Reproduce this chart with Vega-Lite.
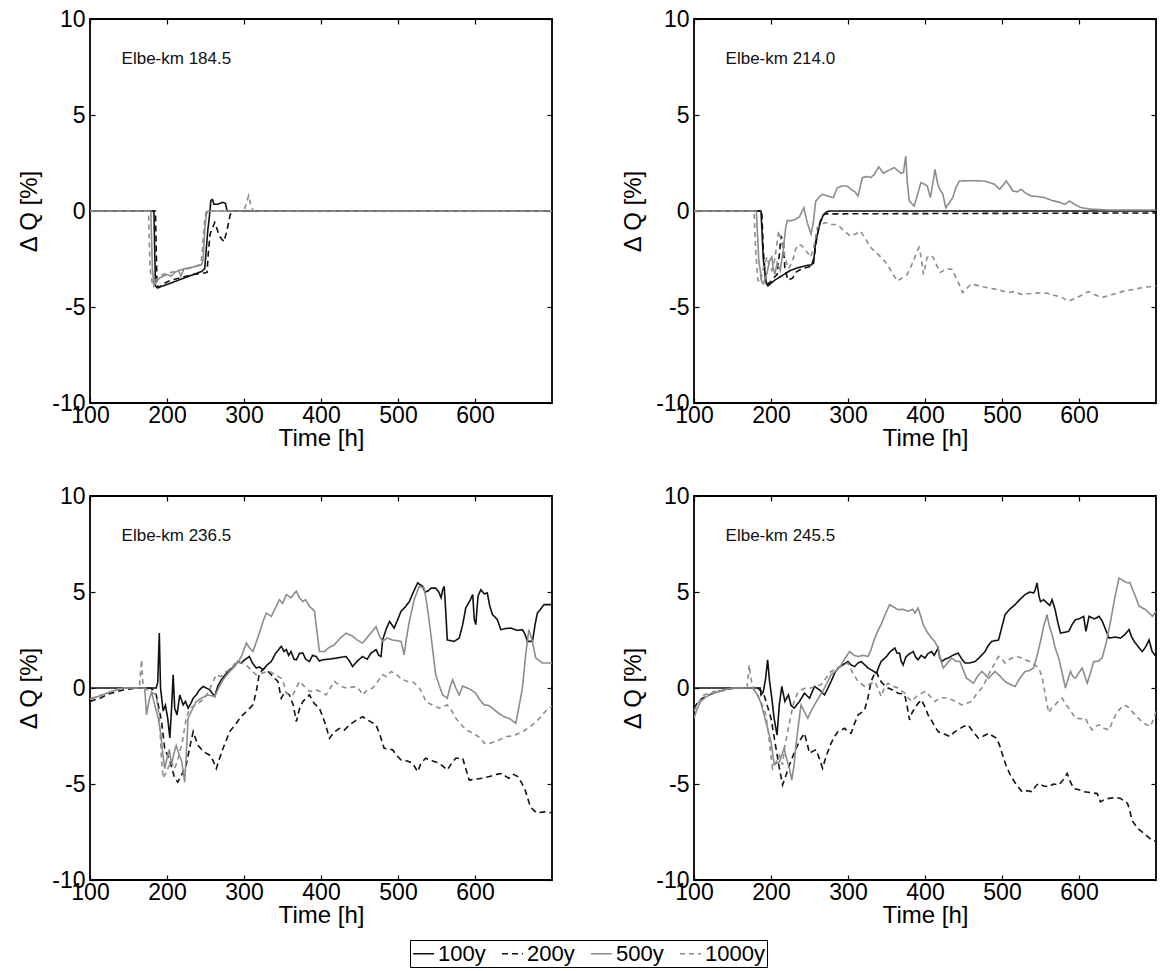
{
"$schema": "https://vega.github.io/schema/vega-lite/v6.json",
"background": "white",
"padding": {"left": 16, "top": 7, "right": 5, "bottom": 5},
"bounds": "flush",
"columns": 2,
"spacing": {"row": 93, "column": 142},
"datasets": {
"a": [
{"s":"100y","t":100,"q":0},{"s":"100y","t":183,"q":0},{"s":"100y","t":185,"q":-3.9},{"s":"100y","t":187,"q":-4.0},{"s":"100y","t":195,"q":-3.9},{"s":"100y","t":205,"q":-3.75},{"s":"100y","t":215,"q":-3.6},{"s":"100y","t":225,"q":-3.45},{"s":"100y","t":235,"q":-3.3},{"s":"100y","t":245,"q":-3.15},{"s":"100y","t":249,"q":-3.0},{"s":"100y","t":251,"q":-2.0},{"s":"100y","t":253,"q":-1.0},{"s":"100y","t":255,"q":-0.3},{"s":"100y","t":257,"q":0.55},{"s":"100y","t":259,"q":0.6},{"s":"100y","t":261,"q":0.35},{"s":"100y","t":266,"q":0.35},{"s":"100y","t":272,"q":0.45},{"s":"100y","t":276,"q":0.4},{"s":"100y","t":278,"q":0},{"s":"100y","t":700,"q":0},
{"s":"200y","t":100,"q":0},{"s":"200y","t":185,"q":0},{"s":"200y","t":187,"q":-3.8},{"s":"200y","t":189,"q":-4.0},{"s":"200y","t":195,"q":-3.8},{"s":"200y","t":205,"q":-3.6},{"s":"200y","t":215,"q":-3.5},{"s":"200y","t":225,"q":-3.4},{"s":"200y","t":235,"q":-3.3},{"s":"200y","t":245,"q":-3.25},{"s":"200y","t":252,"q":-3.2},{"s":"200y","t":254,"q":-2.0},{"s":"200y","t":256,"q":-1.2},{"s":"200y","t":262,"q":-0.6},{"s":"200y","t":268,"q":-1.3},{"s":"200y","t":274,"q":-1.6},{"s":"200y","t":278,"q":-1.0},{"s":"200y","t":282,"q":-0.2},{"s":"200y","t":285,"q":0},{"s":"200y","t":700,"q":0},
{"s":"500y","t":100,"q":0},{"s":"500y","t":179,"q":0},{"s":"500y","t":181,"q":-3.0},{"s":"500y","t":183,"q":-3.9},{"s":"500y","t":186,"q":-3.7},{"s":"500y","t":190,"q":-3.5},{"s":"500y","t":195,"q":-3.4},{"s":"500y","t":200,"q":-3.3},{"s":"500y","t":205,"q":-3.4},{"s":"500y","t":210,"q":-3.2},{"s":"500y","t":215,"q":-3.1},{"s":"500y","t":218,"q":-3.4},{"s":"500y","t":222,"q":-3.0},{"s":"500y","t":228,"q":-3.0},{"s":"500y","t":235,"q":-2.9},{"s":"500y","t":245,"q":-2.8},{"s":"500y","t":247,"q":-2.5},{"s":"500y","t":249,"q":-1.0},{"s":"500y","t":251,"q":-0.2},{"s":"500y","t":253,"q":0},{"s":"500y","t":700,"q":0},
{"s":"1000y","t":100,"q":0},{"s":"1000y","t":176,"q":0},{"s":"1000y","t":178,"q":-3.0},{"s":"1000y","t":181,"q":-3.8},{"s":"1000y","t":185,"q":-3.6},{"s":"1000y","t":195,"q":-3.3},{"s":"1000y","t":205,"q":-3.2},{"s":"1000y","t":215,"q":-3.1},{"s":"1000y","t":225,"q":-3.0},{"s":"1000y","t":235,"q":-2.9},{"s":"1000y","t":244,"q":-2.8},{"s":"1000y","t":246,"q":-2.0},{"s":"1000y","t":249,"q":-0.5},{"s":"1000y","t":251,"q":0},{"s":"1000y","t":300,"q":0},{"s":"1000y","t":303,"q":0.4},{"s":"1000y","t":306,"q":0.8},{"s":"1000y","t":309,"q":0.3},{"s":"1000y","t":312,"q":0},{"s":"1000y","t":700,"q":0}
],
"b": [
{"s":"100y","t":100,"q":0},{"s":"100y","t":187,"q":0},{"s":"100y","t":190,"q":-2.5},{"s":"100y","t":194,"q":-3.8},{"s":"100y","t":196,"q":-3.9},{"s":"100y","t":205,"q":-3.6},{"s":"100y","t":215,"q":-3.35},{"s":"100y","t":225,"q":-3.1},{"s":"100y","t":235,"q":-2.95},{"s":"100y","t":245,"q":-2.85},{"s":"100y","t":253,"q":-2.8},{"s":"100y","t":256,"q":-2.4},{"s":"100y","t":258,"q":-1.6},{"s":"100y","t":261,"q":-1.1},{"s":"100y","t":264,"q":-0.6},{"s":"100y","t":268,"q":-0.2},{"s":"100y","t":272,"q":-0.05},{"s":"100y","t":276,"q":0},{"s":"100y","t":700,"q":0},
{"s":"200y","t":100,"q":0},{"s":"200y","t":188,"q":0},{"s":"200y","t":190,"q":-2.0},{"s":"200y","t":193,"q":-3.6},{"s":"200y","t":197,"q":-3.8},{"s":"200y","t":203,"q":-3.5},{"s":"200y","t":208,"q":-3.3},{"s":"200y","t":211,"q":-2.2},{"s":"200y","t":213,"q":-1.3},{"s":"200y","t":216,"q":-1.6},{"s":"200y","t":218,"q":-3.0},{"s":"200y","t":222,"q":-3.6},{"s":"200y","t":228,"q":-3.5},{"s":"200y","t":232,"q":-3.2},{"s":"200y","t":240,"q":-3.0},{"s":"200y","t":250,"q":-2.9},{"s":"200y","t":255,"q":-2.8},{"s":"200y","t":258,"q":-1.8},{"s":"200y","t":262,"q":-0.8},{"s":"200y","t":266,"q":-0.3},{"s":"200y","t":270,"q":-0.15},{"s":"200y","t":700,"q":-0.1},
{"s":"500y","t":100,"q":0},{"s":"500y","t":181,"q":0},{"s":"500y","t":184,"q":-2.5},{"s":"500y","t":188,"q":-3.7},{"s":"500y","t":190,"q":-3.8},{"s":"500y","t":195,"q":-3.2},{"s":"500y","t":198,"q":-2.6},{"s":"500y","t":201,"q":-2.4},{"s":"500y","t":203,"q":-3.0},{"s":"500y","t":205,"q":-3.3},{"s":"500y","t":208,"q":-2.7},{"s":"500y","t":212,"q":-3.1},{"s":"500y","t":216,"q":-2.0},{"s":"500y","t":219,"q":-0.9},{"s":"500y","t":221,"q":-0.5},{"s":"500y","t":226,"q":-0.5},{"s":"500y","t":232,"q":-0.43},{"s":"500y","t":237,"q":-0.3},{"s":"500y","t":242.6,"q":0.17},{"s":"500y","t":247,"q":-0.6},{"s":"500y","t":252,"q":-1.2},{"s":"500y","t":255,"q":-0.6},{"s":"500y","t":258,"q":0.5},{"s":"500y","t":262,"q":0.7},{"s":"500y","t":266.5,"q":0.87},{"s":"500y","t":272,"q":0.8},{"s":"500y","t":276,"q":0.75},{"s":"500y","t":281,"q":0.7},{"s":"500y","t":286,"q":1.2},{"s":"500y","t":292,"q":1.3},{"s":"500y","t":299,"q":1.3},{"s":"500y","t":305,"q":1.1},{"s":"500y","t":309,"q":1.0},{"s":"500y","t":313,"q":0.78},{"s":"500y","t":318.6,"q":1.74},{"s":"500y","t":325,"q":1.8},{"s":"500y","t":330,"q":1.75},{"s":"500y","t":334,"q":1.9},{"s":"500y","t":340,"q":2.3},{"s":"500y","t":346,"q":1.97},{"s":"500y","t":352,"q":2.1},{"s":"500y","t":360,"q":2.26},{"s":"500y","t":365,"q":2.1},{"s":"500y","t":368.5,"q":1.97},{"s":"500y","t":372,"q":2.0},{"s":"500y","t":375,"q":2.86},{"s":"500y","t":377,"q":1.5},{"s":"500y","t":379.6,"q":0.52},{"s":"500y","t":386,"q":0.26},{"s":"500y","t":390,"q":0.8},{"s":"500y","t":394.6,"q":1.48},{"s":"500y","t":399,"q":1.4},{"s":"500y","t":403,"q":1.3},{"s":"500y","t":407,"q":0.7},{"s":"500y","t":410,"q":1.4},{"s":"500y","t":413,"q":2.17},{"s":"500y","t":416,"q":1.5},{"s":"500y","t":419,"q":1.13},{"s":"500y","t":423,"q":0.9},{"s":"500y","t":427,"q":0.17},{"s":"500y","t":431,"q":0.4},{"s":"500y","t":436,"q":0.7},{"s":"500y","t":440,"q":1.2},{"s":"500y","t":444.6,"q":1.56},{"s":"500y","t":460,"q":1.58},{"s":"500y","t":477,"q":1.56},{"s":"500y","t":490,"q":1.4},{"s":"500y","t":497,"q":1.13},{"s":"500y","t":505.5,"q":1.56},{"s":"500y","t":510,"q":1.3},{"s":"500y","t":514,"q":1.04},{"s":"500y","t":520,"q":1.0},{"s":"500y","t":525,"q":1.13},{"s":"500y","t":530,"q":0.95},{"s":"500y","t":538,"q":0.78},{"s":"500y","t":547,"q":0.75},{"s":"500y","t":555,"q":0.7},{"s":"500y","t":565,"q":0.55},{"s":"500y","t":575,"q":0.45},{"s":"500y","t":581.5,"q":0.35},{"s":"500y","t":588,"q":0.52},{"s":"500y","t":594,"q":0.35},{"s":"500y","t":603,"q":0.17},{"s":"500y","t":615,"q":0.1},{"s":"500y","t":638,"q":0.05},{"s":"500y","t":700,"q":0.05},
{"s":"1000y","t":100,"q":0},{"s":"1000y","t":178,"q":0},{"s":"1000y","t":180,"q":-2.0},{"s":"1000y","t":183,"q":-3.6},{"s":"1000y","t":186,"q":-3.7},{"s":"1000y","t":190,"q":-3.0},{"s":"1000y","t":194.8,"q":-2.4},{"s":"1000y","t":198,"q":-2.9},{"s":"1000y","t":201,"q":-3.1},{"s":"1000y","t":205,"q":-2.5},{"s":"1000y","t":210,"q":-1.04},{"s":"1000y","t":213,"q":-1.5},{"s":"1000y","t":216.5,"q":-2.1},{"s":"1000y","t":220,"q":-2.7},{"s":"1000y","t":223,"q":-3.0},{"s":"1000y","t":228,"q":-2.6},{"s":"1000y","t":232,"q":-2.0},{"s":"1000y","t":236,"q":-1.74},{"s":"1000y","t":240,"q":-1.8},{"s":"1000y","t":244,"q":-2.0},{"s":"1000y","t":248,"q":-2.2},{"s":"1000y","t":251.7,"q":-2.4},{"s":"1000y","t":256,"q":-1.8},{"s":"1000y","t":260,"q":-0.87},{"s":"1000y","t":265,"q":-0.7},{"s":"1000y","t":270.8,"q":-0.6},{"s":"1000y","t":278,"q":-0.7},{"s":"1000y","t":286,"q":-0.7},{"s":"1000y","t":294,"q":-1.0},{"s":"1000y","t":303,"q":-1.3},{"s":"1000y","t":310,"q":-1.2},{"s":"1000y","t":316,"q":-1.04},{"s":"1000y","t":322,"q":-1.4},{"s":"1000y","t":329.5,"q":-1.9},{"s":"1000y","t":340,"q":-2.3},{"s":"1000y","t":345,"q":-2.5},{"s":"1000y","t":351,"q":-2.78},{"s":"1000y","t":357,"q":-3.2},{"s":"1000y","t":364,"q":-3.65},{"s":"1000y","t":370,"q":-3.5},{"s":"1000y","t":377,"q":-3.3},{"s":"1000y","t":385,"q":-2.6},{"s":"1000y","t":392,"q":-1.9},{"s":"1000y","t":395,"q":-2.4},{"s":"1000y","t":398,"q":-3.3},{"s":"1000y","t":402.6,"q":-2.43},{"s":"1000y","t":407,"q":-2.3},{"s":"1000y","t":411,"q":-2.43},{"s":"1000y","t":416,"q":-2.9},{"s":"1000y","t":420,"q":-3.2},{"s":"1000y","t":428,"q":-3.0},{"s":"1000y","t":435,"q":-3.04},{"s":"1000y","t":442,"q":-3.6},{"s":"1000y","t":449,"q":-4.25},{"s":"1000y","t":455,"q":-4.0},{"s":"1000y","t":460,"q":-3.8},{"s":"1000y","t":470,"q":-3.9},{"s":"1000y","t":481.6,"q":-4.0},{"s":"1000y","t":495,"q":-4.1},{"s":"1000y","t":507.7,"q":-4.25},{"s":"1000y","t":515,"q":-4.2},{"s":"1000y","t":525,"q":-4.34},{"s":"1000y","t":538,"q":-4.3},{"s":"1000y","t":551,"q":-4.25},{"s":"1000y","t":560,"q":-4.3},{"s":"1000y","t":568.6,"q":-4.4},{"s":"1000y","t":578,"q":-4.5},{"s":"1000y","t":586,"q":-4.7},{"s":"1000y","t":598,"q":-4.5},{"s":"1000y","t":612,"q":-4.2},{"s":"1000y","t":620,"q":-4.35},{"s":"1000y","t":629.6,"q":-4.5},{"s":"1000y","t":640,"q":-4.4},{"s":"1000y","t":655.7,"q":-4.2},{"s":"1000y","t":668,"q":-4.1},{"s":"1000y","t":681.7,"q":-4.0},{"s":"1000y","t":700,"q":-3.9}
],
"c": [
{"s":"100y","t":100,"q":0},{"s":"100y","t":186,"q":0},{"s":"100y","t":188,"q":0.3},{"s":"100y","t":190,"q":2.86},{"s":"100y","t":191.6,"q":0},{"s":"100y","t":195,"q":-1.2},{"s":"100y","t":198,"q":-0.9},{"s":"100y","t":201,"q":-1.6},{"s":"100y","t":203.7,"q":-2.6},{"s":"100y","t":206,"q":-1.0},{"s":"100y","t":208,"q":0.69},{"s":"100y","t":210,"q":-1.05},{"s":"100y","t":213,"q":-1.4},{"s":"100y","t":216.6,"q":-0.36},{"s":"100y","t":221,"q":-0.88},{"s":"100y","t":224,"q":-0.7},{"s":"100y","t":227.4,"q":-1.05},{"s":"100y","t":231,"q":-0.8},{"s":"100y","t":234,"q":-0.53},{"s":"100y","t":238,"q":-0.36},{"s":"100y","t":242,"q":-0.1},{"s":"100y","t":247,"q":0.08},{"s":"100y","t":251,"q":0.0},{"s":"100y","t":255.5,"q":-0.1},{"s":"100y","t":262,"q":-0.44},{"s":"100y","t":266,"q":0.1},{"s":"100y","t":270.6,"q":0.43},{"s":"100y","t":276,"q":0.7},{"s":"100y","t":281.4,"q":0.95},{"s":"100y","t":287,"q":1.1},{"s":"100y","t":292,"q":1.38},{"s":"100y","t":296,"q":1.3},{"s":"100y","t":301,"q":1.47},{"s":"100y","t":307,"q":1.64},{"s":"100y","t":311,"q":1.3},{"s":"100y","t":316,"q":1.04},{"s":"100y","t":320,"q":1.1},{"s":"100y","t":324.6,"q":0.95},{"s":"100y","t":330,"q":1.2},{"s":"100y","t":335.4,"q":1.38},{"s":"100y","t":341,"q":1.8},{"s":"100y","t":348.4,"q":2.17},{"s":"100y","t":352,"q":1.9},{"s":"100y","t":355,"q":2.0},{"s":"100y","t":358,"q":1.7},{"s":"100y","t":361,"q":1.9},{"s":"100y","t":365,"q":1.5},{"s":"100y","t":368,"q":1.47},{"s":"100y","t":372,"q":1.8},{"s":"100y","t":376.5,"q":1.82},{"s":"100y","t":380,"q":1.5},{"s":"100y","t":385,"q":1.38},{"s":"100y","t":389,"q":1.7},{"s":"100y","t":393.8,"q":1.64},{"s":"100y","t":398,"q":1.4},{"s":"100y","t":402,"q":1.47},{"s":"100y","t":410,"q":1.5},{"s":"100y","t":420,"q":1.56},{"s":"100y","t":426,"q":1.6},{"s":"100y","t":432.6,"q":1.64},{"s":"100y","t":437,"q":1.4},{"s":"100y","t":441,"q":1.12},{"s":"100y","t":447,"q":1.4},{"s":"100y","t":454,"q":1.64},{"s":"100y","t":460,"q":1.5},{"s":"100y","t":465,"q":1.82},{"s":"100y","t":471.5,"q":2.0},{"s":"100y","t":475,"q":1.7},{"s":"100y","t":478,"q":1.64},{"s":"100y","t":480,"q":2.5},{"s":"100y","t":485,"q":3.1},{"s":"100y","t":489,"q":3.47},{"s":"100y","t":495,"q":3.12},{"s":"100y","t":500,"q":3.6},{"s":"100y","t":504,"q":4.0},{"s":"100y","t":509,"q":4.2},{"s":"100y","t":514.7,"q":4.5},{"s":"100y","t":520,"q":5.0},{"s":"100y","t":525.5,"q":5.47},{"s":"100y","t":532,"q":5.3},{"s":"100y","t":535,"q":5.0},{"s":"100y","t":538.5,"q":5.04},{"s":"100y","t":543,"q":5.2},{"s":"100y","t":549,"q":5.2},{"s":"100y","t":553,"q":5.0},{"s":"100y","t":556,"q":4.7},{"s":"100y","t":558,"q":5.1},{"s":"100y","t":560,"q":5.3},{"s":"100y","t":562,"q":4.0},{"s":"100y","t":564,"q":2.5},{"s":"100y","t":573,"q":2.43},{"s":"100y","t":579.5,"q":2.6},{"s":"100y","t":584,"q":3.3},{"s":"100y","t":588,"q":4.17},{"s":"100y","t":594,"q":4.6},{"s":"100y","t":597,"q":4.87},{"s":"100y","t":599,"q":3.6},{"s":"100y","t":601,"q":3.3},{"s":"100y","t":604,"q":4.8},{"s":"100y","t":607.6,"q":5.12},{"s":"100y","t":612,"q":4.9},{"s":"100y","t":616,"q":4.95},{"s":"100y","t":619,"q":4.3},{"s":"100y","t":622.7,"q":3.82},{"s":"100y","t":626,"q":3.7},{"s":"100y","t":629,"q":3.56},{"s":"100y","t":633.5,"q":3.04},{"s":"100y","t":640,"q":3.1},{"s":"100y","t":646.5,"q":3.12},{"s":"100y","t":655,"q":3.0},{"s":"100y","t":661.6,"q":3.04},{"s":"100y","t":665,"q":2.8},{"s":"100y","t":668,"q":2.43},{"s":"100y","t":674.6,"q":2.43},{"s":"100y","t":678,"q":3.3},{"s":"100y","t":681,"q":3.9},{"s":"100y","t":685,"q":4.1},{"s":"100y","t":689.7,"q":4.34},{"s":"100y","t":700,"q":4.34},
{"s":"200y","t":100,"q":-0.7},{"s":"200y","t":113,"q":-0.53},{"s":"200y","t":125,"q":-0.3},{"s":"200y","t":143,"q":-0.1},{"s":"200y","t":160,"q":0},{"s":"200y","t":178,"q":0},{"s":"200y","t":182,"q":-0.1},{"s":"200y","t":186,"q":-0.36},{"s":"200y","t":193,"q":-1.75},{"s":"200y","t":197,"q":-3.14},{"s":"200y","t":203.7,"q":-3.8},{"s":"200y","t":210,"q":-4.7},{"s":"200y","t":214,"q":-4.9},{"s":"200y","t":219,"q":-4.53},{"s":"200y","t":225,"q":-4.0},{"s":"200y","t":230,"q":-3.0},{"s":"200y","t":234,"q":-2.27},{"s":"200y","t":240,"q":-2.97},{"s":"200y","t":247,"q":-3.3},{"s":"200y","t":255.5,"q":-3.5},{"s":"200y","t":260,"q":-3.8},{"s":"200y","t":264,"q":-4.2},{"s":"200y","t":268,"q":-3.7},{"s":"200y","t":272.8,"q":-3.14},{"s":"200y","t":281.4,"q":-2.27},{"s":"200y","t":290,"q":-1.84},{"s":"200y","t":296,"q":-1.5},{"s":"200y","t":303,"q":-1.23},{"s":"200y","t":311.7,"q":-0.88},{"s":"200y","t":316,"q":-0.18},{"s":"200y","t":320,"q":0.77},{"s":"200y","t":326.8,"q":1.04},{"s":"200y","t":335.4,"q":0.69},{"s":"200y","t":344,"q":0.34},{"s":"200y","t":348.4,"q":-0.53},{"s":"200y","t":353,"q":-0.2},{"s":"200y","t":359,"q":-0.36},{"s":"200y","t":364,"q":-0.9},{"s":"200y","t":368,"q":-1.75},{"s":"200y","t":372,"q":-1.1},{"s":"200y","t":376.5,"q":-0.7},{"s":"200y","t":385,"q":-0.36},{"s":"200y","t":391,"q":-0.8},{"s":"200y","t":398,"q":-1.05},{"s":"200y","t":405,"q":-1.8},{"s":"200y","t":411,"q":-2.62},{"s":"200y","t":417,"q":-2.3},{"s":"200y","t":424,"q":-2.1},{"s":"200y","t":430,"q":-2.2},{"s":"200y","t":437,"q":-1.92},{"s":"200y","t":445,"q":-1.7},{"s":"200y","t":454,"q":-1.5},{"s":"200y","t":462,"q":-1.7},{"s":"200y","t":471.5,"q":-1.92},{"s":"200y","t":477,"q":-2.5},{"s":"200y","t":482,"q":-3.14},{"s":"200y","t":493,"q":-3.22},{"s":"200y","t":498,"q":-3.5},{"s":"200y","t":504,"q":-3.75},{"s":"200y","t":512,"q":-3.8},{"s":"200y","t":519,"q":-3.92},{"s":"200y","t":525.5,"q":-4.36},{"s":"200y","t":530,"q":-3.9},{"s":"200y","t":536,"q":-3.66},{"s":"200y","t":545,"q":-3.8},{"s":"200y","t":553.6,"q":-3.92},{"s":"200y","t":559,"q":-4.1},{"s":"200y","t":564,"q":-4.27},{"s":"200y","t":570,"q":-3.9},{"s":"200y","t":575,"q":-3.66},{"s":"200y","t":584,"q":-3.66},{"s":"200y","t":588,"q":-4.2},{"s":"200y","t":592.5,"q":-4.8},{"s":"200y","t":600,"q":-4.75},{"s":"200y","t":610,"q":-4.7},{"s":"200y","t":620,"q":-4.6},{"s":"200y","t":628,"q":-4.5},{"s":"200y","t":635.7,"q":-4.45},{"s":"200y","t":640,"q":-4.6},{"s":"200y","t":644,"q":-4.7},{"s":"200y","t":650,"q":-4.5},{"s":"200y","t":655,"q":-4.6},{"s":"200y","t":660,"q":-4.9},{"s":"200y","t":665,"q":-5.3},{"s":"200y","t":672,"q":-6.2},{"s":"200y","t":680,"q":-6.5},{"s":"200y","t":690,"q":-6.45},{"s":"200y","t":700,"q":-6.5},
{"s":"500y","t":100,"q":-0.55},{"s":"500y","t":110,"q":-0.45},{"s":"500y","t":120,"q":-0.3},{"s":"500y","t":130,"q":-0.15},{"s":"500y","t":143,"q":0},{"s":"500y","t":171,"q":0},{"s":"500y","t":173.4,"q":-1.4},{"s":"500y","t":177,"q":-0.6},{"s":"500y","t":180,"q":-0.2},{"s":"500y","t":184,"q":-0.88},{"s":"500y","t":188.6,"q":-1.57},{"s":"500y","t":192,"q":-2.4},{"s":"500y","t":194,"q":-3.2},{"s":"500y","t":197,"q":-4.2},{"s":"500y","t":201,"q":-3.5},{"s":"500y","t":203,"q":-3.2},{"s":"500y","t":206,"q":-4.0},{"s":"500y","t":209,"q":-3.4},{"s":"500y","t":212,"q":-3.0},{"s":"500y","t":216,"q":-3.5},{"s":"500y","t":219,"q":-3.8},{"s":"500y","t":223,"q":-4.9},{"s":"500y","t":225,"q":-3.5},{"s":"500y","t":227.4,"q":-1.57},{"s":"500y","t":231.8,"q":-1.2},{"s":"500y","t":238,"q":-0.7},{"s":"500y","t":244.7,"q":-0.53},{"s":"500y","t":253,"q":-0.36},{"s":"500y","t":262,"q":-0.44},{"s":"500y","t":267,"q":0.0},{"s":"500y","t":272.8,"q":0.43},{"s":"500y","t":280,"q":0.8},{"s":"500y","t":285.8,"q":1.04},{"s":"500y","t":291,"q":1.3},{"s":"500y","t":296.6,"q":1.64},{"s":"500y","t":303,"q":2.34},{"s":"500y","t":307,"q":2.1},{"s":"500y","t":311.7,"q":1.9},{"s":"500y","t":320,"q":2.86},{"s":"500y","t":325,"q":3.5},{"s":"500y","t":329,"q":3.9},{"s":"500y","t":335.4,"q":3.73},{"s":"500y","t":340,"q":4.1},{"s":"500y","t":346,"q":4.6},{"s":"500y","t":350,"q":4.4},{"s":"500y","t":355,"q":4.86},{"s":"500y","t":361,"q":4.7},{"s":"500y","t":365,"q":4.9},{"s":"500y","t":368,"q":5.04},{"s":"500y","t":372,"q":4.7},{"s":"500y","t":376.5,"q":4.5},{"s":"500y","t":380,"q":4.6},{"s":"500y","t":385,"q":4.26},{"s":"500y","t":391.6,"q":4.0},{"s":"500y","t":394,"q":3.2},{"s":"500y","t":398,"q":1.9},{"s":"500y","t":404.6,"q":1.9},{"s":"500y","t":410,"q":2.1},{"s":"500y","t":417.5,"q":2.25},{"s":"500y","t":425,"q":2.6},{"s":"500y","t":432.6,"q":2.86},{"s":"500y","t":441,"q":2.7},{"s":"500y","t":447,"q":2.5},{"s":"500y","t":454,"q":2.34},{"s":"500y","t":463,"q":2.78},{"s":"500y","t":471.5,"q":3.2},{"s":"500y","t":476,"q":2.7},{"s":"500y","t":480,"q":2.43},{"s":"500y","t":486,"q":2.6},{"s":"500y","t":493,"q":2.5},{"s":"500y","t":504,"q":2.43},{"s":"500y","t":508,"q":1.73},{"s":"500y","t":511,"q":2.6},{"s":"500y","t":514.7,"q":3.47},{"s":"500y","t":521,"q":4.6},{"s":"500y","t":527.7,"q":5.3},{"s":"500y","t":534,"q":5.2},{"s":"500y","t":537,"q":4.5},{"s":"500y","t":540.6,"q":3.47},{"s":"500y","t":545,"q":2.0},{"s":"500y","t":549,"q":0.69},{"s":"500y","t":553,"q":0.2},{"s":"500y","t":558,"q":-0.36},{"s":"500y","t":564,"q":-0.53},{"s":"500y","t":568,"q":0.1},{"s":"500y","t":571,"q":0.43},{"s":"500y","t":575,"q":0.0},{"s":"500y","t":579.5,"q":-0.36},{"s":"500y","t":584,"q":0.1},{"s":"500y","t":590,"q":0.0},{"s":"500y","t":595,"q":-0.1},{"s":"500y","t":601,"q":-0.27},{"s":"500y","t":606,"q":-0.6},{"s":"500y","t":612,"q":-0.88},{"s":"500y","t":617,"q":-0.9},{"s":"500y","t":622.7,"q":-1.05},{"s":"500y","t":630,"q":-1.3},{"s":"500y","t":638,"q":-1.5},{"s":"500y","t":645,"q":-1.6},{"s":"500y","t":653,"q":-1.84},{"s":"500y","t":657,"q":-1.0},{"s":"500y","t":661.6,"q":0.0},{"s":"500y","t":666,"q":1.8},{"s":"500y","t":670,"q":3.04},{"s":"500y","t":674,"q":2.5},{"s":"500y","t":679,"q":1.56},{"s":"500y","t":687.5,"q":1.3},{"s":"500y","t":700,"q":1.3},
{"s":"1000y","t":100,"q":-0.6},{"s":"1000y","t":110,"q":-0.45},{"s":"1000y","t":120,"q":-0.3},{"s":"1000y","t":130,"q":-0.15},{"s":"1000y","t":140,"q":0},{"s":"1000y","t":164,"q":0},{"s":"1000y","t":166,"q":1.0},{"s":"1000y","t":167,"q":1.47},{"s":"1000y","t":168.5,"q":0.3},{"s":"1000y","t":170,"q":0},{"s":"1000y","t":186,"q":-0.36},{"s":"1000y","t":190,"q":-1.5},{"s":"1000y","t":193,"q":-3.8},{"s":"1000y","t":195,"q":-4.7},{"s":"1000y","t":200,"q":-4.3},{"s":"1000y","t":205,"q":-3.8},{"s":"1000y","t":210,"q":-4.2},{"s":"1000y","t":215,"q":-3.6},{"s":"1000y","t":220,"q":-2.8},{"s":"1000y","t":225,"q":-1.57},{"s":"1000y","t":229.6,"q":-1.05},{"s":"1000y","t":238,"q":-0.88},{"s":"1000y","t":249,"q":-0.53},{"s":"1000y","t":256,"q":0.0},{"s":"1000y","t":264,"q":0.69},{"s":"1000y","t":270,"q":0.6},{"s":"1000y","t":277,"q":0.86},{"s":"1000y","t":283,"q":1.0},{"s":"1000y","t":290,"q":1.38},{"s":"1000y","t":296,"q":1.3},{"s":"1000y","t":303,"q":1.2},{"s":"1000y","t":310,"q":0.9},{"s":"1000y","t":316,"q":0.69},{"s":"1000y","t":325,"q":0.8},{"s":"1000y","t":333,"q":0.86},{"s":"1000y","t":340,"q":0.7},{"s":"1000y","t":348.4,"q":0.51},{"s":"1000y","t":352,"q":0.2},{"s":"1000y","t":355,"q":-0.27},{"s":"1000y","t":363.5,"q":-0.36},{"s":"1000y","t":372,"q":0.34},{"s":"1000y","t":378,"q":0.1},{"s":"1000y","t":385,"q":-0.18},{"s":"1000y","t":394,"q":-0.1},{"s":"1000y","t":400,"q":-0.2},{"s":"1000y","t":406.7,"q":-0.36},{"s":"1000y","t":412,"q":0.0},{"s":"1000y","t":417.5,"q":0.34},{"s":"1000y","t":425,"q":0.1},{"s":"1000y","t":432.6,"q":0.0},{"s":"1000y","t":445.6,"q":0.08},{"s":"1000y","t":450,"q":-0.1},{"s":"1000y","t":454,"q":-0.36},{"s":"1000y","t":460,"q":-0.1},{"s":"1000y","t":467,"q":0.0},{"s":"1000y","t":473,"q":0.3},{"s":"1000y","t":480,"q":0.69},{"s":"1000y","t":485,"q":0.6},{"s":"1000y","t":491,"q":0.86},{"s":"1000y","t":498,"q":0.7},{"s":"1000y","t":506,"q":0.43},{"s":"1000y","t":515,"q":0.3},{"s":"1000y","t":520,"q":0.3},{"s":"1000y","t":527.7,"q":0.0},{"s":"1000y","t":532,"q":-0.3},{"s":"1000y","t":536,"q":-0.7},{"s":"1000y","t":545,"q":-0.9},{"s":"1000y","t":553.6,"q":-1.05},{"s":"1000y","t":564,"q":-0.88},{"s":"1000y","t":570,"q":-1.2},{"s":"1000y","t":575,"q":-1.57},{"s":"1000y","t":582,"q":-1.9},{"s":"1000y","t":588,"q":-2.18},{"s":"1000y","t":595,"q":-2.3},{"s":"1000y","t":601,"q":-2.45},{"s":"1000y","t":607,"q":-2.6},{"s":"1000y","t":612,"q":-2.88},{"s":"1000y","t":618,"q":-2.9},{"s":"1000y","t":625,"q":-2.8},{"s":"1000y","t":632,"q":-2.7},{"s":"1000y","t":640,"q":-2.53},{"s":"1000y","t":648,"q":-2.5},{"s":"1000y","t":657,"q":-2.36},{"s":"1000y","t":665,"q":-2.2},{"s":"1000y","t":674.6,"q":-1.92},{"s":"1000y","t":681,"q":-1.7},{"s":"1000y","t":687.5,"q":-1.4},{"s":"1000y","t":694,"q":-1.1},{"s":"1000y","t":700,"q":-0.96}
],
"d": [
{"s":"100y","t":100,"q":0},{"s":"100y","t":186,"q":0},{"s":"100y","t":187,"q":-0.36},{"s":"100y","t":190,"q":-0.2},{"s":"100y","t":193,"q":0.5},{"s":"100y","t":195.6,"q":1.47},{"s":"100y","t":198,"q":0.4},{"s":"100y","t":201,"q":-0.5},{"s":"100y","t":204,"q":-1.57},{"s":"100y","t":207.8,"q":-2.45},{"s":"100y","t":210.8,"q":-0.88},{"s":"100y","t":214,"q":0.08},{"s":"100y","t":218,"q":-0.7},{"s":"100y","t":222.6,"q":-0.36},{"s":"100y","t":226,"q":-0.9},{"s":"100y","t":230,"q":-1.05},{"s":"100y","t":237,"q":-0.7},{"s":"100y","t":243.4,"q":-0.27},{"s":"100y","t":250,"q":-0.53},{"s":"100y","t":256.5,"q":0.08},{"s":"100y","t":263,"q":-0.1},{"s":"100y","t":269.5,"q":-0.36},{"s":"100y","t":274,"q":0.0},{"s":"100y","t":278,"q":0.34},{"s":"100y","t":283,"q":0.8},{"s":"100y","t":287,"q":1.04},{"s":"100y","t":293,"q":1.2},{"s":"100y","t":300,"q":1.38},{"s":"100y","t":304,"q":1.2},{"s":"100y","t":308.6,"q":1.12},{"s":"100y","t":313,"q":1.3},{"s":"100y","t":317,"q":1.38},{"s":"100y","t":322,"q":1.2},{"s":"100y","t":326,"q":1.04},{"s":"100y","t":332,"q":0.9},{"s":"100y","t":337,"q":0.77},{"s":"100y","t":340,"q":1.1},{"s":"100y","t":343,"q":1.38},{"s":"100y","t":350,"q":1.64},{"s":"100y","t":355,"q":1.9},{"s":"100y","t":360.8,"q":2.08},{"s":"100y","t":364,"q":1.8},{"s":"100y","t":367,"q":1.82},{"s":"100y","t":369,"q":1.4},{"s":"100y","t":371.6,"q":1.2},{"s":"100y","t":375,"q":1.6},{"s":"100y","t":378,"q":1.73},{"s":"100y","t":384.7,"q":1.9},{"s":"100y","t":388,"q":1.6},{"s":"100y","t":391,"q":1.47},{"s":"100y","t":395,"q":1.7},{"s":"100y","t":400,"q":1.56},{"s":"100y","t":404,"q":1.8},{"s":"100y","t":408.6,"q":1.9},{"s":"100y","t":412,"q":1.7},{"s":"100y","t":417,"q":2.08},{"s":"100y","t":419,"q":1.6},{"s":"100y","t":421.6,"q":1.38},{"s":"100y","t":426,"q":1.5},{"s":"100y","t":430,"q":1.56},{"s":"100y","t":436,"q":1.7},{"s":"100y","t":443,"q":1.82},{"s":"100y","t":448,"q":1.5},{"s":"100y","t":452,"q":1.3},{"s":"100y","t":458,"q":1.3},{"s":"100y","t":465,"q":1.38},{"s":"100y","t":471,"q":1.6},{"s":"100y","t":478,"q":1.9},{"s":"100y","t":482,"q":2.2},{"s":"100y","t":486.8,"q":2.43},{"s":"100y","t":495.5,"q":2.5},{"s":"100y","t":500,"q":3.2},{"s":"100y","t":504,"q":3.82},{"s":"100y","t":510,"q":4.1},{"s":"100y","t":517,"q":4.34},{"s":"100y","t":523,"q":4.6},{"s":"100y","t":530,"q":4.87},{"s":"100y","t":536,"q":5.0},{"s":"100y","t":541,"q":4.95},{"s":"100y","t":543,"q":5.1},{"s":"100y","t":545.5,"q":5.47},{"s":"100y","t":548,"q":4.8},{"s":"100y","t":550,"q":4.5},{"s":"100y","t":554,"q":4.6},{"s":"100y","t":558.5,"q":4.43},{"s":"100y","t":562,"q":4.3},{"s":"100y","t":565,"q":4.6},{"s":"100y","t":569,"q":4.08},{"s":"100y","t":572,"q":3.5},{"s":"100y","t":576,"q":2.86},{"s":"100y","t":581,"q":2.9},{"s":"100y","t":586.7,"q":2.95},{"s":"100y","t":591,"q":3.3},{"s":"100y","t":595.4,"q":3.56},{"s":"100y","t":600,"q":3.6},{"s":"100y","t":606,"q":3.73},{"s":"100y","t":609,"q":2.95},{"s":"100y","t":613,"q":3.73},{"s":"100y","t":620,"q":3.6},{"s":"100y","t":626,"q":3.73},{"s":"100y","t":630,"q":3.5},{"s":"100y","t":634.6,"q":3.04},{"s":"100y","t":639,"q":2.6},{"s":"100y","t":647,"q":2.65},{"s":"100y","t":654,"q":2.6},{"s":"100y","t":660,"q":2.8},{"s":"100y","t":665,"q":3.04},{"s":"100y","t":668,"q":2.7},{"s":"100y","t":671.5,"q":2.43},{"s":"100y","t":676,"q":2.2},{"s":"100y","t":682,"q":1.9},{"s":"100y","t":686,"q":2.1},{"s":"100y","t":691,"q":2.5},{"s":"100y","t":695,"q":1.9},{"s":"100y","t":700,"q":1.64},
{"s":"200y","t":100,"q":-1.05},{"s":"200y","t":105,"q":-0.75},{"s":"200y","t":110,"q":-0.55},{"s":"200y","t":120,"q":-0.35},{"s":"200y","t":130,"q":-0.2},{"s":"200y","t":145,"q":-0.05},{"s":"200y","t":155,"q":0},{"s":"200y","t":182.6,"q":0},{"s":"200y","t":187,"q":-0.15},{"s":"200y","t":191,"q":-0.36},{"s":"200y","t":195,"q":-0.9},{"s":"200y","t":200,"q":-1.57},{"s":"200y","t":203,"q":-2.3},{"s":"200y","t":206.5,"q":-3.14},{"s":"200y","t":211,"q":-4.2},{"s":"200y","t":215,"q":-5.05},{"s":"200y","t":219,"q":-4.6},{"s":"200y","t":224,"q":-4.0},{"s":"200y","t":228,"q":-3.6},{"s":"200y","t":232.5,"q":-3.14},{"s":"200y","t":238,"q":-2.7},{"s":"200y","t":243.4,"q":-2.36},{"s":"200y","t":247,"q":-2.9},{"s":"200y","t":250,"q":-3.4},{"s":"200y","t":254,"q":-3.3},{"s":"200y","t":258.6,"q":-3.22},{"s":"200y","t":263,"q":-3.7},{"s":"200y","t":267,"q":-4.18},{"s":"200y","t":272,"q":-3.5},{"s":"200y","t":278,"q":-2.88},{"s":"200y","t":283,"q":-2.5},{"s":"200y","t":287,"q":-2.27},{"s":"200y","t":291,"q":-2.2},{"s":"200y","t":295.6,"q":-2.1},{"s":"200y","t":300,"q":-2.3},{"s":"200y","t":304,"q":-2.36},{"s":"200y","t":308,"q":-1.9},{"s":"200y","t":313,"q":-1.4},{"s":"200y","t":317,"q":-1.3},{"s":"200y","t":321.6,"q":-1.14},{"s":"200y","t":326,"q":-0.5},{"s":"200y","t":330,"q":0.34},{"s":"200y","t":334,"q":0.7},{"s":"200y","t":337,"q":0.86},{"s":"200y","t":341,"q":0.43},{"s":"200y","t":346,"q":0.2},{"s":"200y","t":352,"q":0.0},{"s":"200y","t":358,"q":-0.1},{"s":"200y","t":365,"q":-0.27},{"s":"200y","t":370,"q":-0.3},{"s":"200y","t":373.8,"q":-0.36},{"s":"200y","t":377,"q":-1.0},{"s":"200y","t":380,"q":-1.66},{"s":"200y","t":383,"q":-1.3},{"s":"200y","t":386.8,"q":-1.05},{"s":"200y","t":391,"q":-0.8},{"s":"200y","t":395.5,"q":-0.62},{"s":"200y","t":400,"q":-1.0},{"s":"200y","t":404,"q":-1.4},{"s":"200y","t":410,"q":-1.8},{"s":"200y","t":417,"q":-2.27},{"s":"200y","t":425,"q":-2.4},{"s":"200y","t":432.5,"q":-2.53},{"s":"200y","t":438,"q":-2.3},{"s":"200y","t":443,"q":-2.18},{"s":"200y","t":450,"q":-2.0},{"s":"200y","t":456,"q":-1.92},{"s":"200y","t":463,"q":-2.3},{"s":"200y","t":469.4,"q":-2.62},{"s":"200y","t":476,"q":-2.5},{"s":"200y","t":482.4,"q":-2.36},{"s":"200y","t":488,"q":-2.5},{"s":"200y","t":493,"q":-2.62},{"s":"200y","t":497,"q":-3.0},{"s":"200y","t":500,"q":-3.4},{"s":"200y","t":505,"q":-4.0},{"s":"200y","t":510.7,"q":-4.53},{"s":"200y","t":518,"q":-5.0},{"s":"200y","t":526,"q":-5.4},{"s":"200y","t":532,"q":-5.35},{"s":"200y","t":539,"q":-5.4},{"s":"200y","t":544,"q":-5.1},{"s":"200y","t":547.6,"q":-4.97},{"s":"200y","t":554,"q":-5.1},{"s":"200y","t":560.7,"q":-5.14},{"s":"200y","t":567,"q":-5.0},{"s":"200y","t":573.7,"q":-5.05},{"s":"200y","t":579,"q":-4.8},{"s":"200y","t":584.6,"q":-4.45},{"s":"200y","t":589,"q":-4.9},{"s":"200y","t":593,"q":-5.23},{"s":"200y","t":600,"q":-5.3},{"s":"200y","t":606,"q":-5.4},{"s":"200y","t":615,"q":-5.45},{"s":"200y","t":623.7,"q":-5.5},{"s":"200y","t":628,"q":-5.93},{"s":"200y","t":633,"q":-5.8},{"s":"200y","t":639,"q":-5.75},{"s":"200y","t":647,"q":-5.7},{"s":"200y","t":654,"q":-5.75},{"s":"200y","t":659,"q":-5.9},{"s":"200y","t":663,"q":-6.0},{"s":"200y","t":666,"q":-6.4},{"s":"200y","t":669,"q":-6.9},{"s":"200y","t":676,"q":-7.3},{"s":"200y","t":685,"q":-7.6},{"s":"200y","t":694,"q":-7.9},{"s":"200y","t":700,"q":-8.0},
{"s":"500y","t":100,"q":-1.57},{"s":"500y","t":104,"q":-1.1},{"s":"500y","t":108.7,"q":-0.7},{"s":"500y","t":116,"q":-0.45},{"s":"500y","t":126,"q":-0.27},{"s":"500y","t":138,"q":-0.1},{"s":"500y","t":152,"q":0},{"s":"500y","t":176,"q":0},{"s":"500y","t":182.6,"q":-0.36},{"s":"500y","t":187,"q":-0.8},{"s":"500y","t":191,"q":-1.4},{"s":"500y","t":195,"q":-2.0},{"s":"500y","t":200,"q":-2.8},{"s":"500y","t":204.3,"q":-4.0},{"s":"500y","t":208,"q":-3.9},{"s":"500y","t":211,"q":-3.84},{"s":"500y","t":214,"q":-3.5},{"s":"500y","t":217,"q":-3.14},{"s":"500y","t":221,"q":-3.8},{"s":"500y","t":224,"q":-4.2},{"s":"500y","t":227,"q":-4.8},{"s":"500y","t":230,"q":-4.0},{"s":"500y","t":232.5,"q":-2.97},{"s":"500y","t":236,"q":-1.8},{"s":"500y","t":239,"q":-0.88},{"s":"500y","t":243,"q":-1.2},{"s":"500y","t":247.8,"q":-1.57},{"s":"500y","t":252,"q":-1.2},{"s":"500y","t":256.5,"q":-0.88},{"s":"500y","t":262,"q":-0.5},{"s":"500y","t":267,"q":-0.18},{"s":"500y","t":272,"q":0.2},{"s":"500y","t":278,"q":0.69},{"s":"500y","t":285,"q":0.9},{"s":"500y","t":291,"q":1.2},{"s":"500y","t":297,"q":1.6},{"s":"500y","t":302,"q":1.9},{"s":"500y","t":308,"q":1.7},{"s":"500y","t":313,"q":1.64},{"s":"500y","t":320,"q":1.7},{"s":"500y","t":326,"q":1.64},{"s":"500y","t":330,"q":2.0},{"s":"500y","t":334.7,"q":2.6},{"s":"500y","t":339,"q":3.0},{"s":"500y","t":343,"q":3.3},{"s":"500y","t":348,"q":3.8},{"s":"500y","t":354,"q":4.34},{"s":"500y","t":360,"q":4.2},{"s":"500y","t":365,"q":4.08},{"s":"500y","t":371,"q":4.1},{"s":"500y","t":378,"q":4.0},{"s":"500y","t":384,"q":4.1},{"s":"500y","t":387,"q":3.9},{"s":"500y","t":391,"q":4.17},{"s":"500y","t":394,"q":3.8},{"s":"500y","t":397.7,"q":3.3},{"s":"500y","t":403,"q":2.9},{"s":"500y","t":408.6,"q":2.6},{"s":"500y","t":413,"q":2.4},{"s":"500y","t":417,"q":2.08},{"s":"500y","t":420,"q":1.5},{"s":"500y","t":423.8,"q":1.04},{"s":"500y","t":429,"q":1.3},{"s":"500y","t":434.6,"q":1.56},{"s":"500y","t":440,"q":1.4},{"s":"500y","t":445.5,"q":1.38},{"s":"500y","t":450,"q":0.9},{"s":"500y","t":454,"q":0.51},{"s":"500y","t":458,"q":0.4},{"s":"500y","t":463,"q":0.25},{"s":"500y","t":468,"q":0.6},{"s":"500y","t":473.8,"q":0.86},{"s":"500y","t":478,"q":0.7},{"s":"500y","t":482.4,"q":0.51},{"s":"500y","t":487,"q":0.7},{"s":"500y","t":491,"q":0.86},{"s":"500y","t":498,"q":0.6},{"s":"500y","t":504,"q":0.34},{"s":"500y","t":510,"q":0.2},{"s":"500y","t":517,"q":0.08},{"s":"500y","t":523,"q":0.5},{"s":"500y","t":530,"q":0.86},{"s":"500y","t":535,"q":0.9},{"s":"500y","t":541,"q":1.04},{"s":"500y","t":545,"q":1.6},{"s":"500y","t":550,"q":2.43},{"s":"500y","t":554,"q":3.2},{"s":"500y","t":558.5,"q":3.82},{"s":"500y","t":561,"q":3.3},{"s":"500y","t":565,"q":2.78},{"s":"500y","t":569,"q":2.1},{"s":"500y","t":573.7,"q":1.56},{"s":"500y","t":578,"q":0.8},{"s":"500y","t":582.4,"q":0.0},{"s":"500y","t":586,"q":0.5},{"s":"500y","t":589,"q":0.86},{"s":"500y","t":592,"q":0.6},{"s":"500y","t":595.4,"q":0.51},{"s":"500y","t":600,"q":0.8},{"s":"500y","t":604,"q":1.04},{"s":"500y","t":607,"q":0.7},{"s":"500y","t":610.7,"q":0.25},{"s":"500y","t":615,"q":0.8},{"s":"500y","t":619,"q":1.38},{"s":"500y","t":625,"q":1.4},{"s":"500y","t":630,"q":1.56},{"s":"500y","t":635,"q":2.3},{"s":"500y","t":641,"q":3.47},{"s":"500y","t":646,"q":4.6},{"s":"500y","t":652,"q":5.73},{"s":"500y","t":657,"q":5.6},{"s":"500y","t":663,"q":5.47},{"s":"500y","t":666,"q":5.5},{"s":"500y","t":669,"q":5.2},{"s":"500y","t":673,"q":4.8},{"s":"500y","t":678,"q":4.26},{"s":"500y","t":686.7,"q":4.08},{"s":"500y","t":691,"q":3.9},{"s":"500y","t":695.4,"q":3.73},{"s":"500y","t":700,"q":4.0},
{"s":"1000y","t":100,"q":-1.2},{"s":"1000y","t":105,"q":-0.8},{"s":"1000y","t":113,"q":-0.36},{"s":"1000y","t":125,"q":-0.2},{"s":"1000y","t":143,"q":-0.1},{"s":"1000y","t":150,"q":0},{"s":"1000y","t":169,"q":0},{"s":"1000y","t":171.7,"q":1.2},{"s":"1000y","t":174,"q":0.5},{"s":"1000y","t":176,"q":0.08},{"s":"1000y","t":181,"q":-0.3},{"s":"1000y","t":187,"q":-0.7},{"s":"1000y","t":193.4,"q":-1.4},{"s":"1000y","t":197,"q":-2.5},{"s":"1000y","t":202,"q":-4.2},{"s":"1000y","t":206,"q":-3.9},{"s":"1000y","t":211,"q":-3.5},{"s":"1000y","t":215,"q":-4.0},{"s":"1000y","t":218,"q":-3.0},{"s":"1000y","t":221.7,"q":-2.27},{"s":"1000y","t":226,"q":-1.4},{"s":"1000y","t":230,"q":-0.7},{"s":"1000y","t":234,"q":-0.3},{"s":"1000y","t":239,"q":-0.1},{"s":"1000y","t":245,"q":0.0},{"s":"1000y","t":252,"q":0.0},{"s":"1000y","t":258,"q":0.1},{"s":"1000y","t":265,"q":0.17},{"s":"1000y","t":271,"q":0.5},{"s":"1000y","t":278,"q":0.86},{"s":"1000y","t":287,"q":1.04},{"s":"1000y","t":293,"q":1.2},{"s":"1000y","t":300,"q":1.3},{"s":"1000y","t":306,"q":0.8},{"s":"1000y","t":313,"q":0.34},{"s":"1000y","t":321.6,"q":0.08},{"s":"1000y","t":328,"q":0.2},{"s":"1000y","t":334.7,"q":0.34},{"s":"1000y","t":339,"q":0.0},{"s":"1000y","t":343,"q":-0.44},{"s":"1000y","t":347,"q":0.0},{"s":"1000y","t":352,"q":0.25},{"s":"1000y","t":358,"q":0.1},{"s":"1000y","t":365,"q":0.0},{"s":"1000y","t":373.8,"q":-0.27},{"s":"1000y","t":378,"q":-0.5},{"s":"1000y","t":382.5,"q":-0.7},{"s":"1000y","t":390,"q":-0.4},{"s":"1000y","t":400,"q":-0.18},{"s":"1000y","t":406,"q":-0.4},{"s":"1000y","t":413,"q":-0.7},{"s":"1000y","t":420,"q":-0.5},{"s":"1000y","t":430,"q":-0.53},{"s":"1000y","t":440,"q":-0.7},{"s":"1000y","t":447.7,"q":-0.88},{"s":"1000y","t":454,"q":-0.8},{"s":"1000y","t":460.7,"q":-0.7},{"s":"1000y","t":467,"q":-0.3},{"s":"1000y","t":473.8,"q":0.0},{"s":"1000y","t":478,"q":0.3},{"s":"1000y","t":482.4,"q":0.69},{"s":"1000y","t":488,"q":1.1},{"s":"1000y","t":495.5,"q":1.64},{"s":"1000y","t":500,"q":1.5},{"s":"1000y","t":504,"q":1.3},{"s":"1000y","t":510,"q":1.5},{"s":"1000y","t":517,"q":1.64},{"s":"1000y","t":523,"q":1.6},{"s":"1000y","t":530,"q":1.47},{"s":"1000y","t":535,"q":1.4},{"s":"1000y","t":539,"q":1.3},{"s":"1000y","t":545.5,"q":1.12},{"s":"1000y","t":549,"q":0.9},{"s":"1000y","t":552,"q":0.6},{"s":"1000y","t":556,"q":-0.3},{"s":"1000y","t":560.7,"q":-1.3},{"s":"1000y","t":565,"q":-1.0},{"s":"1000y","t":569,"q":-0.88},{"s":"1000y","t":573,"q":-0.7},{"s":"1000y","t":578,"q":-0.53},{"s":"1000y","t":582,"q":-0.8},{"s":"1000y","t":586.7,"q":-1.05},{"s":"1000y","t":591,"q":-1.3},{"s":"1000y","t":595.4,"q":-1.57},{"s":"1000y","t":602,"q":-1.6},{"s":"1000y","t":608.5,"q":-1.57},{"s":"1000y","t":612,"q":-1.9},{"s":"1000y","t":617,"q":-2.18},{"s":"1000y","t":621,"q":-2.0},{"s":"1000y","t":626,"q":-1.92},{"s":"1000y","t":632,"q":-2.1},{"s":"1000y","t":639,"q":-2.18},{"s":"1000y","t":643,"q":-1.8},{"s":"1000y","t":647.6,"q":-1.4},{"s":"1000y","t":653,"q":-1.1},{"s":"1000y","t":658.5,"q":-0.88},{"s":"1000y","t":664,"q":-1.0},{"s":"1000y","t":669,"q":-1.23},{"s":"1000y","t":675,"q":-1.5},{"s":"1000y","t":682,"q":-1.75},{"s":"1000y","t":687,"q":-1.9},{"s":"1000y","t":693,"q":-2.0},{"s":"1000y","t":697,"q":-1.6},{"s":"1000y","t":700,"q":-1.23}
]
},
"concat": [
{"width": 462, "height": 384, "data": {"name": "a"},
 "resolve": {"axis": {"x": "independent", "y": "independent"}},
 "layer": [
  {"mark": {"type": "line", "strokeWidth": 1.6, "clip": true},
   "encoding": {
    "x": {"field": "t", "type": "quantitative", "scale": {"domain": [100, 700], "nice": false, "zero": false}, "axis": {"orient": "bottom", "values": [100, 200, 300, 400, 500, 600], "title": "Time [h]"}},
    "y": {"field": "q", "type": "quantitative", "scale": {"domain": [-10, 10], "nice": false, "zero": false}, "axis": {"orient": "left", "values": [-10, -5, 0, 5, 10], "title": "Δ Q [%]", "labelExpr": "'' + datum.value"}},
    "color": {"field": "s", "type": "nominal", "scale": {"domain": ["100y", "200y", "500y", "1000y"], "range": ["#111111", "#111111", "#8c8c8c", "#8c8c8c"]}, "legend": {"title": null}},
    "strokeDash": {"field": "s", "type": "nominal", "scale": {"domain": ["100y", "200y", "500y", "1000y"], "range": [[1, 0], [6, 4], [1, 0], [5, 4]]}, "legend": {"title": null}}
   }},
  {"mark": {"type": "point", "opacity": 0},
   "encoding": {
    "x": {"field": "t", "type": "quantitative", "axis": {"orient": "top", "values": [100, 200, 300, 400, 500, 600], "labels": false, "title": null}},
    "y": {"field": "q", "type": "quantitative", "axis": {"orient": "right", "values": [-10, -5, 0, 5, 10], "labels": false, "title": null}}
   }},
  {"data": {"values": [{"label": "Elbe-km 184.5"}]},
   "mark": {"type": "text", "align": "left", "baseline": "middle", "fontSize": 17, "font": "Liberation Sans", "color": "#111"},
   "encoding": {"x": {"datum": 141, "type": "quantitative", "axis": null}, "y": {"datum": 7.9, "type": "quantitative", "axis": null}, "text": {"field": "label"}}}
 ]},
{"width": 462, "height": 384, "data": {"name": "b"},
 "resolve": {"axis": {"x": "independent", "y": "independent"}},
 "layer": [
  {"mark": {"type": "line", "strokeWidth": 1.6, "clip": true},
   "encoding": {
    "x": {"field": "t", "type": "quantitative", "scale": {"domain": [100, 700], "nice": false, "zero": false}, "axis": {"orient": "bottom", "values": [100, 200, 300, 400, 500, 600], "title": "Time [h]"}},
    "y": {"field": "q", "type": "quantitative", "scale": {"domain": [-10, 10], "nice": false, "zero": false}, "axis": {"orient": "left", "values": [-10, -5, 0, 5, 10], "title": "Δ Q [%]", "labelExpr": "'' + datum.value"}},
    "color": {"field": "s", "type": "nominal", "scale": {"domain": ["100y", "200y", "500y", "1000y"], "range": ["#111111", "#111111", "#8c8c8c", "#8c8c8c"]}, "legend": {"title": null}},
    "strokeDash": {"field": "s", "type": "nominal", "scale": {"domain": ["100y", "200y", "500y", "1000y"], "range": [[1, 0], [6, 4], [1, 0], [5, 4]]}, "legend": {"title": null}}
   }},
  {"mark": {"type": "point", "opacity": 0},
   "encoding": {
    "x": {"field": "t", "type": "quantitative", "axis": {"orient": "top", "values": [100, 200, 300, 400, 500, 600], "labels": false, "title": null}},
    "y": {"field": "q", "type": "quantitative", "axis": {"orient": "right", "values": [-10, -5, 0, 5, 10], "labels": false, "title": null}}
   }},
  {"data": {"values": [{"label": "Elbe-km 214.0"}]},
   "mark": {"type": "text", "align": "left", "baseline": "middle", "fontSize": 17, "font": "Liberation Sans", "color": "#111"},
   "encoding": {"x": {"datum": 141, "type": "quantitative", "axis": null}, "y": {"datum": 7.9, "type": "quantitative", "axis": null}, "text": {"field": "label"}}}
 ]},
{"width": 462, "height": 384, "data": {"name": "c"},
 "resolve": {"axis": {"x": "independent", "y": "independent"}},
 "layer": [
  {"mark": {"type": "line", "strokeWidth": 1.6, "clip": true},
   "encoding": {
    "x": {"field": "t", "type": "quantitative", "scale": {"domain": [100, 700], "nice": false, "zero": false}, "axis": {"orient": "bottom", "values": [100, 200, 300, 400, 500, 600], "title": "Time [h]"}},
    "y": {"field": "q", "type": "quantitative", "scale": {"domain": [-10, 10], "nice": false, "zero": false}, "axis": {"orient": "left", "values": [-10, -5, 0, 5, 10], "title": "Δ Q [%]", "labelExpr": "'' + datum.value"}},
    "color": {"field": "s", "type": "nominal", "scale": {"domain": ["100y", "200y", "500y", "1000y"], "range": ["#111111", "#111111", "#8c8c8c", "#8c8c8c"]}, "legend": {"title": null}},
    "strokeDash": {"field": "s", "type": "nominal", "scale": {"domain": ["100y", "200y", "500y", "1000y"], "range": [[1, 0], [6, 4], [1, 0], [5, 4]]}, "legend": {"title": null}}
   }},
  {"mark": {"type": "point", "opacity": 0},
   "encoding": {
    "x": {"field": "t", "type": "quantitative", "axis": {"orient": "top", "values": [100, 200, 300, 400, 500, 600], "labels": false, "title": null}},
    "y": {"field": "q", "type": "quantitative", "axis": {"orient": "right", "values": [-10, -5, 0, 5, 10], "labels": false, "title": null}}
   }},
  {"data": {"values": [{"label": "Elbe-km 236.5"}]},
   "mark": {"type": "text", "align": "left", "baseline": "middle", "fontSize": 17, "font": "Liberation Sans", "color": "#111"},
   "encoding": {"x": {"datum": 141, "type": "quantitative", "axis": null}, "y": {"datum": 7.9, "type": "quantitative", "axis": null}, "text": {"field": "label"}}}
 ]},
{"width": 462, "height": 384, "data": {"name": "d"},
 "resolve": {"axis": {"x": "independent", "y": "independent"}},
 "layer": [
  {"mark": {"type": "line", "strokeWidth": 1.6, "clip": true},
   "encoding": {
    "x": {"field": "t", "type": "quantitative", "scale": {"domain": [100, 700], "nice": false, "zero": false}, "axis": {"orient": "bottom", "values": [100, 200, 300, 400, 500, 600], "title": "Time [h]"}},
    "y": {"field": "q", "type": "quantitative", "scale": {"domain": [-10, 10], "nice": false, "zero": false}, "axis": {"orient": "left", "values": [-10, -5, 0, 5, 10], "title": "Δ Q [%]", "labelExpr": "'' + datum.value"}},
    "color": {"field": "s", "type": "nominal", "scale": {"domain": ["100y", "200y", "500y", "1000y"], "range": ["#111111", "#111111", "#8c8c8c", "#8c8c8c"]}, "legend": {"title": null}},
    "strokeDash": {"field": "s", "type": "nominal", "scale": {"domain": ["100y", "200y", "500y", "1000y"], "range": [[1, 0], [6, 4], [1, 0], [5, 4]]}, "legend": {"title": null}}
   }},
  {"mark": {"type": "point", "opacity": 0},
   "encoding": {
    "x": {"field": "t", "type": "quantitative", "axis": {"orient": "top", "values": [100, 200, 300, 400, 500, 600], "labels": false, "title": null}},
    "y": {"field": "q", "type": "quantitative", "axis": {"orient": "right", "values": [-10, -5, 0, 5, 10], "labels": false, "title": null}}
   }},
  {"data": {"values": [{"label": "Elbe-km 245.5"}]},
   "mark": {"type": "text", "align": "left", "baseline": "middle", "fontSize": 17, "font": "Liberation Sans", "color": "#111"},
   "encoding": {"x": {"datum": 141, "type": "quantitative", "axis": null}, "y": {"datum": 7.9, "type": "quantitative", "axis": null}, "text": {"field": "label"}}}
 ]}
],
"config": {
 "font": "Liberation Sans",
 "view": {"stroke": "#000000", "strokeWidth": 1.8},
 "axis": {"grid": false, "domain": false, "ticks": true, "tickSize": -5, "tickColor": "#000000", "tickWidth": 1.2, "labelFont": "Liberation Sans", "labelFontSize": 23, "labelColor": "#000000", "labelFlush": false, "labelOverlap": false, "titleFont": "Liberation Sans", "titleFontSize": 24, "titleFontWeight": "normal", "titleColor": "#000000"},
 "axisX": {"labelPadding": 6, "titlePadding": -1},
 "axisY": {"labelPadding": 10, "titlePadding": 10},
 "legend": {"orient": "none", "legendX": 320, "legendY": 921, "direction": "horizontal", "columns": 4, "symbolType": "stroke", "symbolSize": 441, "symbolStrokeWidth": 1.6, "labelFont": "Liberation Sans", "labelFontSize": 22, "labelColor": "#000000", "labelOffset": 3, "columnPadding": 12, "padding": 2, "strokeColor": "#000000", "fillColor": "#ffffff"}
}
}
